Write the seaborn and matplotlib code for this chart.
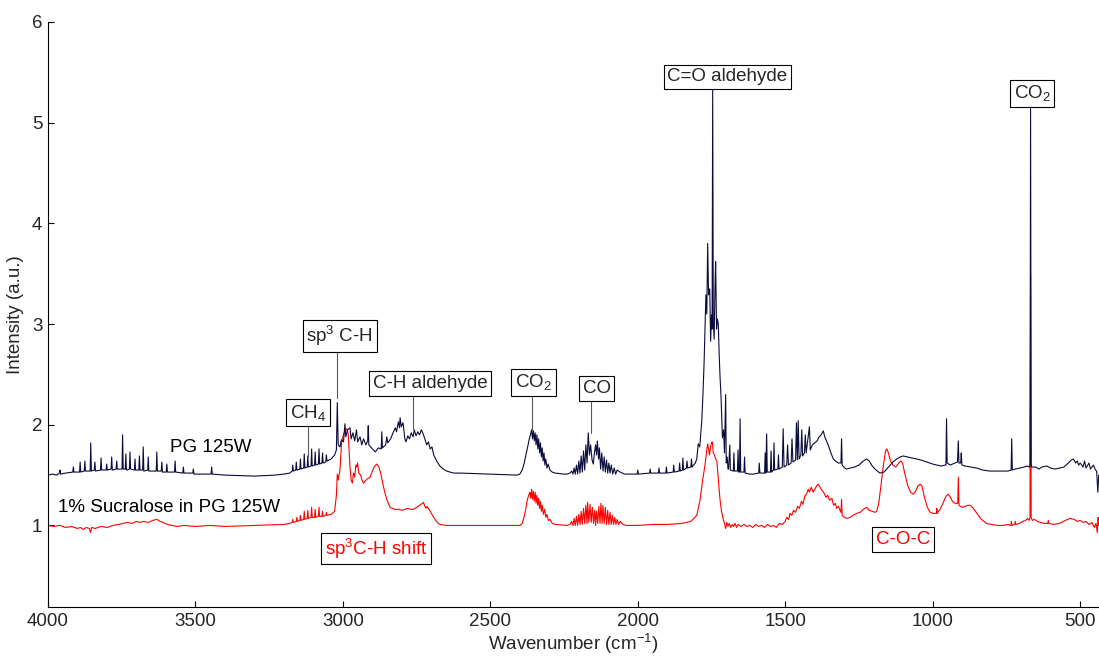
import matplotlib
matplotlib.use("Agg")
import matplotlib.pyplot as plt
import seaborn as sns

# PG 125W spectrum, (wavenumber, intensity)
pg_points = [
    (4000, 1.50), (3985, 1.51), (3970, 1.50), (3961, 1.52), (3959, 1.55), (3957, 1.51),
    (3940, 1.52), (3916, 1.53), (3914, 1.58), (3912, 1.53),
    (3893, 1.53), (3891, 1.63), (3889, 1.53), (3877, 1.54), (3875, 1.64), (3873, 1.54),
    (3857, 1.54), (3855, 1.82), (3853, 1.54), (3843, 1.55), (3841, 1.63), (3839, 1.54),
    (3822, 1.55), (3820, 1.67), (3818, 1.55), (3803, 1.55), (3801, 1.61), (3799, 1.55),
    (3786, 1.56), (3784, 1.68), (3782, 1.55), (3769, 1.56), (3767, 1.64), (3765, 1.56),
    (3749, 1.56), (3747, 1.90), (3745, 1.56), (3738, 1.56), (3736, 1.71), (3734, 1.55),
    (3724, 1.56), (3722, 1.73), (3720, 1.56), (3707, 1.55), (3705, 1.66), (3703, 1.55),
    (3692, 1.55), (3690, 1.69), (3688, 1.55), (3679, 1.55), (3677, 1.78), (3675, 1.54),
    (3662, 1.55), (3660, 1.68), (3658, 1.54), (3633, 1.54), (3631, 1.73), (3629, 1.54),
    (3616, 1.54), (3614, 1.63), (3612, 1.53), (3599, 1.53), (3597, 1.61), (3595, 1.53),
    (3571, 1.53), (3569, 1.64), (3567, 1.53), (3543, 1.52), (3541, 1.58), (3539, 1.52),
    (3509, 1.52), (3507, 1.56), (3505, 1.51), (3447, 1.51), (3445, 1.58), (3443, 1.51),
    (3400, 1.50), (3300, 1.49), (3230, 1.50), (3200, 1.51), (3180, 1.52),
    (3172, 1.54), (3170, 1.60), (3168, 1.54), (3160, 1.55), (3158, 1.63), (3156, 1.55),
    (3146, 1.56), (3144, 1.66), (3142, 1.56), (3133, 1.57), (3131, 1.71), (3129, 1.57),
    (3121, 1.58), (3119, 1.69), (3117, 1.58), (3108, 1.59), (3106, 1.76), (3104, 1.59),
    (3096, 1.60), (3094, 1.73), (3092, 1.60), (3083, 1.61), (3081, 1.76), (3079, 1.61),
    (3071, 1.62), (3069, 1.72), (3067, 1.62), (3058, 1.63), (3056, 1.70), (3054, 1.64),
    (3040, 1.66), (3028, 1.70), (3022, 1.75), (3019, 2.22), (3016, 1.80),
    (3010, 1.78), (3005, 1.85), (2998, 1.83), (2993, 2.01), (2990, 1.88), (2984, 1.95),
    (2976, 1.97), (2972, 1.86), (2966, 1.92), (2960, 1.84), (2954, 1.95), (2950, 1.83),
    (2942, 1.88), (2936, 1.80), (2930, 1.86), (2922, 1.80), (2916, 1.84), (2914, 1.99),
    (2912, 1.80), (2900, 1.76), (2890, 1.73), (2880, 1.77), (2870, 1.76), (2868, 1.93),
    (2866, 1.77), (2855, 1.80), (2851, 1.88), (2848, 1.82), (2838, 1.86), (2830, 1.92),
    (2822, 1.97), (2818, 1.93), (2812, 2.03), (2808, 1.97), (2806, 2.07), (2802, 1.98),
    (2796, 2.02), (2790, 1.86), (2786, 1.83), (2780, 1.89), (2774, 1.86), (2768, 1.92),
    (2762, 1.88), (2758, 1.95), (2752, 1.89), (2746, 1.93), (2740, 1.90), (2734, 1.95),
    (2728, 1.91), (2722, 1.86), (2716, 1.80), (2710, 1.83), (2704, 1.76), (2698, 1.78),
    (2692, 1.70), (2682, 1.64), (2671, 1.59), (2660, 1.56), (2648, 1.54), (2625, 1.52),
    (2600, 1.52), (2500, 1.51), (2410, 1.50), (2400, 1.51),
    (2392, 1.55), (2385, 1.62), (2378, 1.72), (2372, 1.80), (2368, 1.86), (2364, 1.90),
    (2360, 1.95), (2357, 1.86), (2354, 1.94), (2351, 1.84), (2348, 1.92), (2345, 1.80),
    (2342, 1.90), (2339, 1.76), (2336, 1.86), (2333, 1.72), (2330, 1.82), (2327, 1.68),
    (2324, 1.77), (2321, 1.64), (2318, 1.72), (2315, 1.60), (2312, 1.66), (2308, 1.57),
    (2304, 1.61), (2298, 1.55), (2290, 1.53), (2280, 1.52), (2250, 1.51), (2240, 1.51),
    (2230, 1.52), (2224, 1.54), (2220, 1.51), (2216, 1.57), (2212, 1.51), (2208, 1.60),
    (2204, 1.51), (2200, 1.64), (2196, 1.52), (2192, 1.69), (2188, 1.53), (2184, 1.74),
    (2180, 1.55), (2176, 1.80), (2172, 1.62), (2168, 1.92), (2164, 1.70), (2160, 1.80),
    (2155, 1.65), (2151, 1.61), (2147, 1.72), (2143, 1.80), (2140, 1.70), (2137, 1.84),
    (2133, 1.66), (2130, 1.77), (2126, 1.56), (2122, 1.72), (2118, 1.54), (2114, 1.68),
    (2110, 1.53), (2106, 1.65), (2102, 1.52), (2098, 1.62), (2094, 1.52), (2090, 1.60),
    (2085, 1.51), (2080, 1.57), (2075, 1.51), (2070, 1.55), (2060, 1.53), (2045, 1.51),
    (2020, 1.51), (2002, 1.51), (2000, 1.55), (1998, 1.51), (1960, 1.52), (1958, 1.56),
    (1956, 1.52), (1930, 1.52), (1928, 1.57), (1926, 1.52), (1905, 1.52), (1903, 1.58),
    (1901, 1.52), (1880, 1.53), (1878, 1.60), (1876, 1.53), (1860, 1.54), (1858, 1.62),
    (1856, 1.54), (1849, 1.55), (1847, 1.67), (1845, 1.55), (1835, 1.57), (1833, 1.64),
    (1831, 1.57), (1820, 1.58), (1818, 1.66), (1816, 1.58), (1805, 1.62), (1800, 1.66),
    (1795, 1.81), (1790, 1.78), (1783, 2.04), (1779, 2.30), (1775, 2.63), (1769, 3.29),
    (1766, 3.10), (1763, 3.80), (1760, 3.29), (1756, 3.35), (1753, 2.83), (1750, 3.09),
    (1748, 2.95), (1746, 5.33), (1744, 3.02), (1741, 2.85), (1738, 3.40), (1736, 3.62),
    (1733, 2.95), (1730, 3.05), (1727, 3.00), (1724, 2.70), (1721, 2.47), (1718, 2.30),
    (1716, 2.13), (1713, 1.87), (1709, 1.95), (1706, 1.72), (1702, 2.30), (1700, 1.62),
    (1697, 1.68), (1694, 1.56), (1692, 1.56), (1688, 1.80), (1686, 1.55), (1676, 1.54),
    (1674, 1.72), (1672, 1.54), (1662, 1.54), (1660, 1.75), (1658, 1.53), (1655, 1.53),
    (1653, 2.06), (1651, 1.53), (1640, 1.53), (1638, 1.68), (1636, 1.52), (1620, 1.51),
    (1608, 1.51), (1590, 1.52), (1588, 1.62), (1586, 1.52), (1570, 1.52), (1568, 1.72),
    (1566, 1.52), (1563, 1.91), (1561, 1.53), (1550, 1.53), (1548, 1.74), (1546, 1.53),
    (1540, 1.55), (1538, 1.82), (1536, 1.55), (1525, 1.56), (1523, 1.70), (1521, 1.56),
    (1510, 1.58), (1507, 1.96), (1504, 1.58), (1495, 1.60), (1492, 1.80), (1489, 1.60),
    (1480, 1.62), (1477, 1.86), (1474, 1.63), (1465, 1.65), (1462, 2.02), (1459, 1.65),
    (1456, 2.04), (1453, 1.66), (1447, 1.70), (1444, 1.95), (1441, 1.69), (1435, 1.72),
    (1432, 1.90), (1429, 1.72), (1418, 1.98), (1415, 1.75), (1408, 1.80), (1400, 1.82),
    (1392, 1.84), (1385, 1.88), (1378, 1.90), (1371, 1.94), (1366, 1.88), (1360, 1.84),
    (1352, 1.78), (1345, 1.72), (1337, 1.66), (1330, 1.64), (1320, 1.62), (1311, 1.62),
    (1309, 1.86), (1307, 1.60), (1298, 1.57), (1292, 1.56), (1280, 1.57), (1265, 1.58),
    (1250, 1.60), (1235, 1.64), (1224, 1.66), (1215, 1.64), (1205, 1.59), (1192, 1.55),
    (1179, 1.52), (1165, 1.53), (1150, 1.58), (1135, 1.63), (1122, 1.66), (1110, 1.68),
    (1100, 1.69), (1085, 1.68), (1070, 1.67), (1055, 1.66), (1040, 1.65), (1020, 1.63),
    (1000, 1.61), (987, 1.60), (970, 1.59), (958, 1.60), (955, 1.60), (953, 2.06),
    (951, 1.62), (940, 1.60), (925, 1.62), (916, 1.63), (913, 1.84), (911, 1.62),
    (905, 1.62), (903, 1.72), (901, 1.60), (890, 1.59), (870, 1.58), (851, 1.57),
    (830, 1.55), (806, 1.54), (780, 1.54), (761, 1.54), (745, 1.54), (734, 1.55),
    (732, 1.86), (730, 1.55), (720, 1.56), (705, 1.57), (690, 1.58), (680, 1.59),
    (672, 1.58), (670, 1.60), (668, 5.14), (666, 1.60), (664, 1.58), (650, 1.58),
    (640, 1.56), (630, 1.58), (613, 1.59), (600, 1.57), (585, 1.56), (570, 1.57),
    (555, 1.58), (540, 1.62), (530, 1.65), (523, 1.66), (515, 1.62), (510, 1.64),
    (505, 1.60), (500, 1.62), (490, 1.58), (485, 1.64), (480, 1.57), (470, 1.62),
    (465, 1.56), (455, 1.60), (448, 1.55), (444, 1.54), (440, 1.33), (437, 1.50),
]

# 1% Sucralose in PG 125W spectrum
suc_points = [
    (4000, 1.00), (3980, 0.99), (3960, 1.00), (3940, 0.98), (3920, 0.99), (3900, 0.97),
    (3890, 0.98), (3880, 0.96), (3870, 0.98), (3860, 0.97), (3856, 0.93), (3852, 0.98),
    (3840, 0.97), (3820, 0.99), (3800, 0.98), (3780, 1.00), (3760, 1.01), (3745, 1.02),
    (3730, 1.03), (3715, 1.02), (3700, 1.04), (3690, 1.03), (3675, 1.04), (3660, 1.03),
    (3645, 1.05), (3631, 1.06), (3620, 1.04), (3610, 1.03), (3595, 1.01), (3580, 1.00),
    (3560, 0.99), (3540, 1.00), (3500, 0.99), (3450, 1.00), (3400, 0.99), (3300, 1.00),
    (3200, 1.01), (3180, 1.02),
    (3172, 1.03), (3170, 1.06), (3168, 1.03), (3158, 1.04), (3156, 1.08), (3154, 1.04),
    (3146, 1.05), (3144, 1.10), (3142, 1.05), (3133, 1.06), (3131, 1.14), (3129, 1.06),
    (3121, 1.07), (3119, 1.15), (3117, 1.07), (3108, 1.08), (3106, 1.18), (3104, 1.08),
    (3096, 1.08), (3094, 1.16), (3092, 1.08), (3083, 1.09), (3081, 1.18), (3079, 1.09),
    (3071, 1.09), (3069, 1.14), (3067, 1.09), (3058, 1.10), (3056, 1.13), (3054, 1.10),
    (3040, 1.11), (3028, 1.14), (3022, 1.30), (3019, 1.51), (3016, 1.45), (3010, 1.55),
    (3004, 1.84), (2998, 1.90), (2993, 1.94), (2987, 1.96), (2982, 1.91), (2978, 1.70),
    (2976, 1.58), (2972, 1.45), (2968, 1.42), (2964, 1.52), (2960, 1.48), (2956, 1.60),
    (2953, 1.58), (2950, 1.62), (2946, 1.52), (2940, 1.50), (2935, 1.45), (2930, 1.42),
    (2925, 1.44), (2918, 1.46), (2908, 1.48), (2900, 1.54), (2892, 1.59), (2885, 1.61),
    (2878, 1.58), (2872, 1.52), (2865, 1.42), (2858, 1.33), (2850, 1.25), (2840, 1.18),
    (2825, 1.16), (2810, 1.16), (2800, 1.15), (2790, 1.16), (2780, 1.17), (2770, 1.16),
    (2761, 1.16), (2750, 1.18), (2740, 1.20), (2730, 1.22), (2727, 1.23), (2722, 1.19),
    (2718, 1.17), (2714, 1.19), (2710, 1.17), (2700, 1.12), (2690, 1.07), (2680, 1.03),
    (2671, 1.01), (2650, 1.00), (2600, 1.00), (2500, 1.00), (2400, 1.00),
    (2392, 1.02), (2386, 1.08), (2380, 1.16), (2375, 1.25), (2370, 1.30), (2366, 1.33),
    (2363, 1.27), (2360, 1.36), (2357, 1.26), (2354, 1.34), (2351, 1.24), (2348, 1.33),
    (2345, 1.22), (2342, 1.30), (2339, 1.20), (2336, 1.27), (2333, 1.17), (2330, 1.24),
    (2327, 1.14), (2324, 1.20), (2320, 1.11), (2316, 1.16), (2312, 1.08), (2308, 1.11),
    (2303, 1.05), (2298, 1.06), (2290, 1.02), (2280, 1.01), (2240, 1.00),
    (2230, 1.01), (2224, 1.04), (2220, 1.00), (2216, 1.07), (2212, 1.00), (2208, 1.09),
    (2204, 1.00), (2200, 1.11), (2196, 1.01), (2192, 1.14), (2188, 1.01), (2184, 1.17),
    (2180, 1.02), (2176, 1.20), (2172, 1.02), (2170, 1.23), (2166, 1.03), (2162, 1.21),
    (2158, 1.03), (2154, 1.18), (2150, 1.02), (2146, 1.15), (2143, 1.00), (2140, 1.14),
    (2136, 1.02), (2132, 1.19), (2128, 1.02), (2125, 1.22), (2121, 1.02), (2118, 1.20),
    (2114, 1.02), (2110, 1.18), (2106, 1.01), (2102, 1.15), (2098, 1.01), (2094, 1.13),
    (2090, 1.01), (2086, 1.10), (2082, 1.01), (2078, 1.08), (2074, 1.01), (2070, 1.06),
    (2065, 1.01), (2060, 1.04), (2050, 1.01), (2040, 1.00),
    (2000, 1.00), (1950, 1.01), (1900, 1.01), (1850, 1.02), (1820, 1.04), (1800, 1.10),
    (1789, 1.25), (1780, 1.45), (1772, 1.60), (1766, 1.75), (1763, 1.81), (1760, 1.76),
    (1757, 1.70), (1753, 1.78), (1750, 1.82), (1747, 1.83), (1744, 1.72), (1740, 1.70),
    (1736, 1.66), (1732, 1.64), (1728, 1.50), (1724, 1.35), (1721, 1.25), (1716, 1.14),
    (1710, 1.06), (1706, 1.02), (1702, 0.97), (1698, 1.03), (1694, 0.99), (1690, 1.02),
    (1685, 0.98), (1680, 1.01), (1675, 0.99), (1670, 1.02), (1665, 0.98), (1660, 1.01),
    (1650, 0.99), (1640, 1.01), (1630, 0.99), (1620, 1.00), (1610, 0.98), (1600, 1.01),
    (1590, 0.99), (1580, 1.00), (1570, 0.98), (1560, 1.01), (1550, 0.99), (1540, 1.00),
    (1530, 0.98), (1520, 1.02), (1510, 1.01), (1500, 1.04), (1495, 1.08), (1488, 1.06),
    (1484, 1.12), (1478, 1.10), (1472, 1.15), (1465, 1.13), (1458, 1.19), (1452, 1.17),
    (1445, 1.24), (1440, 1.21), (1434, 1.29), (1428, 1.31), (1422, 1.36), (1418, 1.33),
    (1412, 1.38), (1405, 1.33), (1398, 1.37), (1392, 1.40), (1388, 1.41), (1382, 1.38),
    (1376, 1.35), (1370, 1.33), (1362, 1.28), (1356, 1.30), (1350, 1.25), (1342, 1.27),
    (1336, 1.20), (1330, 1.22), (1326, 1.17), (1320, 1.19), (1311, 1.13), (1309, 1.26),
    (1307, 1.10), (1300, 1.08), (1290, 1.07), (1280, 1.08), (1270, 1.10), (1258, 1.12),
    (1246, 1.13), (1235, 1.16), (1224, 1.18), (1215, 1.15), (1205, 1.14), (1195, 1.13),
    (1190, 1.14), (1183, 1.22), (1176, 1.38), (1168, 1.58), (1160, 1.74), (1156, 1.76),
    (1150, 1.72), (1143, 1.64), (1135, 1.60), (1125, 1.58), (1115, 1.62), (1108, 1.64),
    (1102, 1.62), (1095, 1.52), (1085, 1.40), (1075, 1.33), (1066, 1.31), (1058, 1.34),
    (1050, 1.39), (1043, 1.41), (1036, 1.39), (1028, 1.28), (1018, 1.18), (1008, 1.13),
    (998, 1.12), (990, 1.12), (987, 1.12), (986, 1.17), (985, 1.12), (975, 1.16),
    (965, 1.22), (955, 1.29), (947, 1.31), (940, 1.28), (933, 1.24), (925, 1.22),
    (915, 1.22), (913, 1.48), (911, 1.20), (900, 1.18), (890, 1.19), (880, 1.20),
    (872, 1.20), (862, 1.17), (850, 1.12), (835, 1.06), (817, 1.02), (800, 1.01),
    (780, 1.00), (761, 1.00), (745, 1.01), (735, 1.00), (733, 1.04), (731, 1.00),
    (722, 1.01), (720, 1.04), (718, 1.01), (705, 1.02), (695, 1.04), (685, 1.05),
    (678, 1.07), (672, 1.05), (670, 1.08), (668, 3.50), (666, 1.08), (662, 1.05),
    (655, 1.06), (645, 1.04), (635, 1.03), (620, 1.02), (610, 1.02), (608, 1.05),
    (606, 1.02), (590, 1.01), (570, 1.02), (550, 1.05), (534, 1.07), (520, 1.06),
    (510, 1.04), (500, 1.05), (490, 1.03), (480, 1.04), (470, 1.01), (460, 1.03),
    (452, 0.98), (446, 1.02), (442, 0.93), (439, 1.08), (437, 1.00),
]

# peak labels: text, peak position, label box centre, top of the leader line
peak_labels = ["CH$_4$", "sp$^3$ C-H", "C-H aldehyde", "CO$_2$", "CO", "C=O aldehyde", "CO$_2$"]
peak_wn = [3120, 3019, 2761, 2360, 2160, 1746, 668]
peak_y = [1.68, 2.27, 1.96, 1.94, 1.92, 5.33, 5.14]
box_wn = [3119, 3011, 2705, 2353, 2140, 1696, 663]
box_y = [2.12, 2.88, 2.41, 2.42, 2.36, 5.455, 5.29]
leader_top = [1.98, 2.71, 2.28, 2.28, 2.23, 5.33, 5.14]

# red labels for the sucralose trace
shift_labels = ["sp$^3$C-H shift", "C-O-C"]
shift_wn = [2888, 1101]
shift_y = [0.77, 0.86]

# series names written next to the traces
series_labels = ["PG 125W", "1% Sucralose in PG 125W"]
series_wn = [3586, 3966]
series_y = [1.77, 1.18]

PG_COLOR = "#0b0b3d"
SUC_COLOR = "#ff0000"
FONT = 13.5

sns.set_style("ticks", {"xtick.direction": "in", "ytick.direction": "in"})
plt.rcParams["font.family"] = ["Liberation Sans", "DejaVu Sans"]
plt.rcParams["mathtext.default"] = "regular"

fig = plt.figure(figsize=(10.99, 6.58), dpi=100)
ax = fig.add_axes([48 / 1099, 51 / 658, 1051 / 1099, 585 / 658])

suc_x, suc_y = zip(*suc_points)
pg_x, pg_y = zip(*pg_points)
sns.lineplot(x=list(suc_x), y=list(suc_y), ax=ax, color=SUC_COLOR, linewidth=0.8,
             estimator=None, sort=False)
sns.lineplot(x=list(pg_x), y=list(pg_y), ax=ax, color=PG_COLOR, linewidth=0.8,
             estimator=None, sort=False)

box_style = dict(boxstyle="square,pad=0.2", facecolor="white", edgecolor="black", linewidth=0.8)
for text, px, py, bx, by, top in zip(peak_labels, peak_wn, peak_y, box_wn, box_y, leader_top):
    ax.plot([px, px], [py, top], color="0.35", linewidth=0.8)
    ax.text(bx, by, text, fontsize=FONT, ha="center", va="center", bbox=box_style)

for text, bx, by in zip(shift_labels, shift_wn, shift_y):
    ax.text(bx, by, text, fontsize=FONT, ha="center", va="center", color=SUC_COLOR,
            bbox=box_style)

for text, sx, sy in zip(series_labels, series_wn, series_y):
    ax.text(sx, sy, text, fontsize=FONT, ha="left", va="center", color="black")

ax.set_xlim(4000, 436)
ax.set_ylim(0.19, 6)
ax.set_xticks([4000, 3500, 3000, 2500, 2000, 1500, 1000, 500])
ax.set_yticks([1, 2, 3, 4, 5, 6])
ax.tick_params(labelsize=FONT, length=4, width=0.8, color="black", pad=4)
ax.set_xlabel("Wavenumber (cm$^{-1}$)", fontsize=FONT, labelpad=2)
ax.set_ylabel("Intensity (a.u.)", fontsize=FONT, labelpad=6)
for side in ["top", "right"]:
    ax.spines[side].set_visible(False)
for side in ["left", "bottom"]:
    ax.spines[side].set_color("black")
    ax.spines[side].set_linewidth(0.8)

fig.savefig("out.png", dpi=100)
